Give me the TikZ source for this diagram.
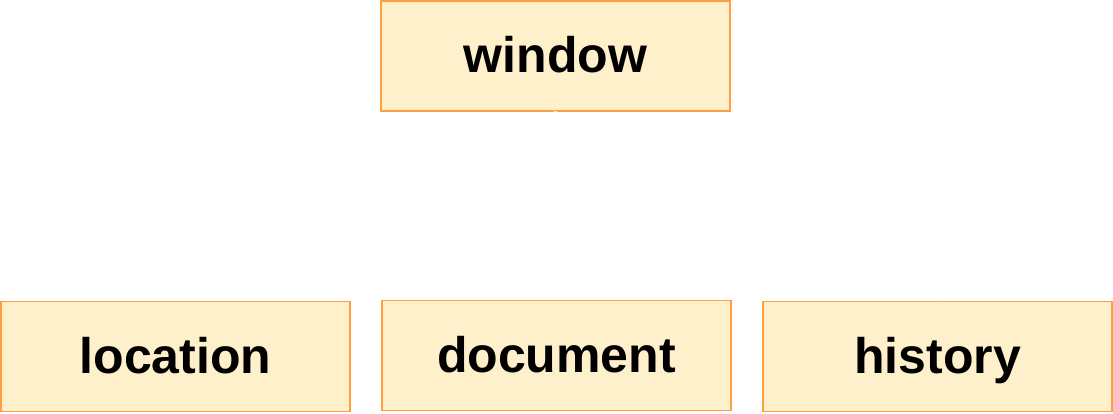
\documentclass[tikz,border=0pt]{standalone}
\usepackage{fontspec}
\setmainfont{Liberation Sans}
\definecolor{boxfill}{HTML}{FFF0CC}
\definecolor{boxline}{HTML}{FFA040}
\begin{document}
\begin{tikzpicture}[x=1pt,y=-1pt,
  objbox/.style={draw=boxline,fill=boxfill,line width=1.6pt,minimum width=349pt,minimum height=110pt,inner sep=0pt,
    text height=40pt,text depth=6pt,
    font=\fontsize{50}{60}\selectfont\bfseries},
  link/.style={draw=white,line width=1.6pt}]
\useasboundingbox (0,0) rectangle (1113,414);
\node[objbox] (window) at (555.5,56) {window};
\node[objbox] (location) at (175.5,356.5) {location};
\node[objbox] (document) at (556.5,355.5) {document};
\node[objbox] (history) at (937.5,356.5) {history};
\draw[link] (window.south) -- (location.north);
\draw[link] (window.south) -- (document.north);
\draw[link] (window.south) -- (history.north);
\end{tikzpicture}
\end{document}
